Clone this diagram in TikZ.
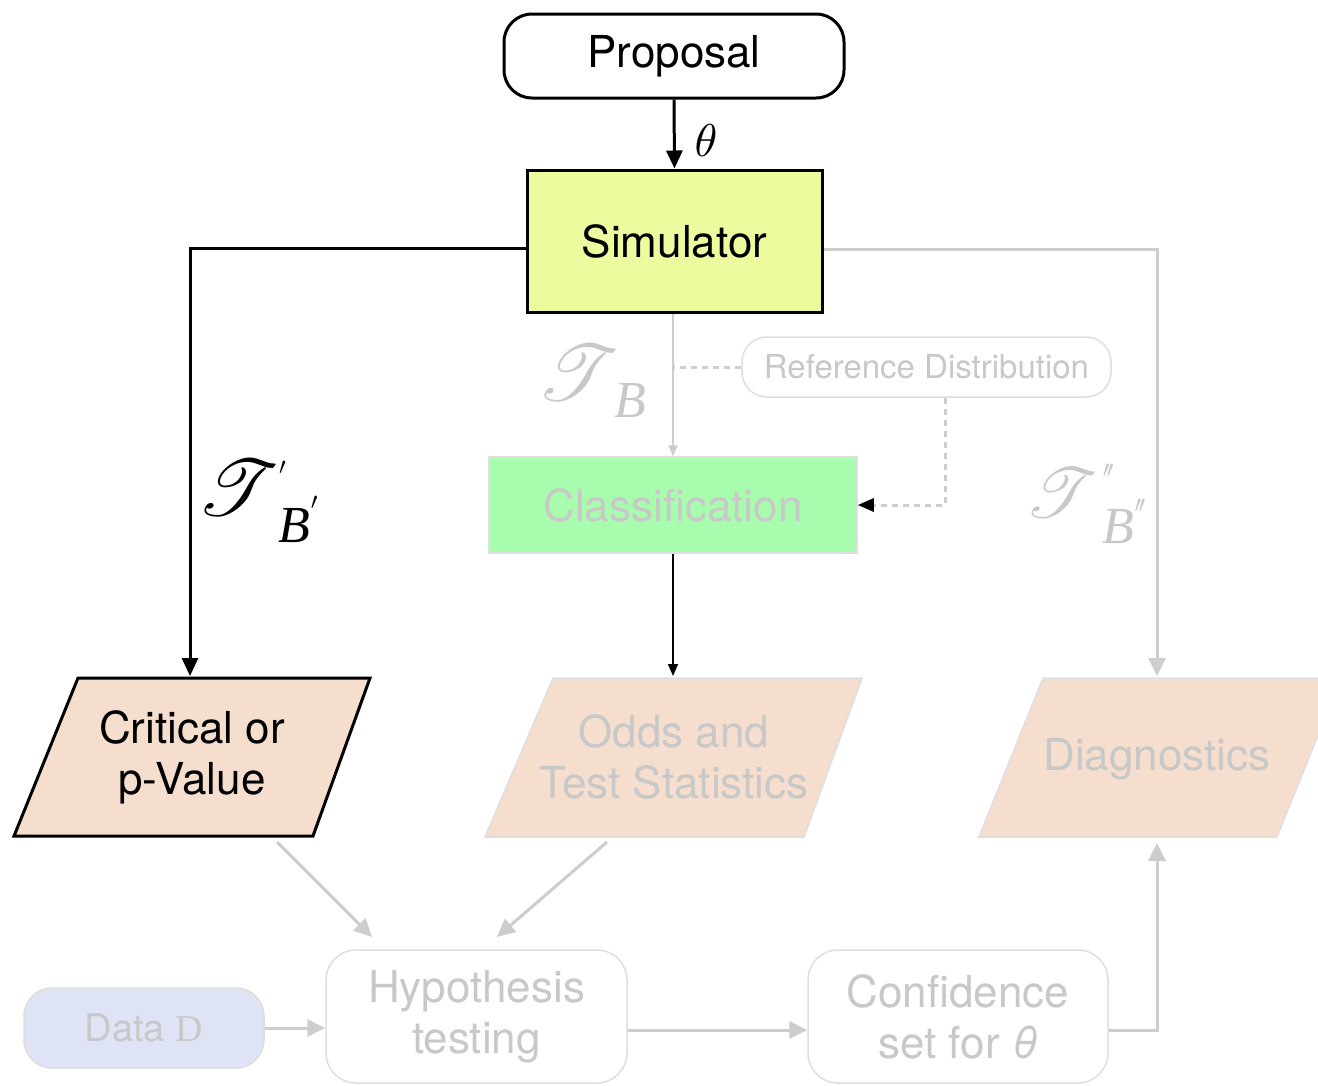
\documentclass[tikz,border=0pt]{standalone}
\usepackage{graphicx}
\usepackage{fontspec}
\setmainfont{TeX Gyre Heros}
\newfontfamily\serifD{Liberation Serif}
\usepackage{mathrsfs}
\usetikzlibrary{arrows.meta,calc}
\definecolor{simfill}{RGB}{238,250,158}
\definecolor{clsfill}{RGB}{168,252,174}
\definecolor{peach}{RGB}{245,222,205}
\definecolor{datafill}{RGB}{222,228,246}
\definecolor{gtext}{RGB}{200,200,200}
\definecolor{gline}{RGB}{205,205,205}
\definecolor{gborder}{RGB}{222,222,222}
\newcommand{\scrT}[1]{\scalebox{#1}{\fontsize{10}{12}\selectfont$\mathscr{T}$}}
\newcommand{\itB}{{\serifD\itshape\fontsize{52}{52}\selectfont B}}
\newcommand{\pri}{\scalebox{2.4}{\fontsize{10}{12}\selectfont$\prime$}}
\newcommand{\prii}{\scalebox{2.4}{\fontsize{10}{12}\selectfont$\prime\mkern-2mu\prime$}}
\begin{document}
\begin{tikzpicture}[x=1pt,y=-1pt,
  big/.style={font=\fontsize{44}{51}\selectfont, align=center},
  mid/.style={font=\fontsize{38}{45}\selectfont, align=center},
  small/.style={font=\fontsize{33}{40}\selectfont, align=center},
  calT/.style={inner sep=0pt, anchor=base west},
  blk/.style={line width=3, -{Triangle[length=18pt,width=16pt]}},
  blkthin/.style={line width=1.5, -{Triangle[length=12pt,width=10pt]}},
  gry/.style={line width=3, draw=gline, -{Triangle[length=18pt,width=17pt,color=gline]}},
  grythin/.style={line width=1.5, draw=gline, -{Triangle[length=11pt,width=9pt,color=gline]}},
  gdash/.style={line width=3, draw=gline, dash pattern=on 6pt off 5pt},
  ghostbox/.style={draw=gborder, line width=1.5, rounded corners=30, text=gtext}
]
\useasboundingbox (0,0) rectangle (1318,1085);

% Proposal and Simulator
\node[draw, line width=3, rounded corners=28, minimum width=340, minimum height=84, big] (prop) at (674,56) {Proposal};
\node[draw, fill=simfill, line width=3, minimum width=295, minimum height=142, big] (sim) at (674.5,241) {Simulator};
\draw[blk] (prop.south) -- (sim.north);
\node (theta) at (706,141) {\scalebox{4.6}{\fontsize{10}{12}\selectfont$\theta$}};

% Critical or p-Value (parallelogram)
\draw[line width=3, fill=peach, line join=miter] (78,678) -- (370,678) -- (313,836) -- (14,836) -- cycle;
\node[big] (crit) at (192,757) {Critical or\\p-Value};
\coordinate (critin) at (190,676);
\coordinate (critout) at (277,842);
\draw[blk] ([yshift=-7pt]sim.west) -| (critin);
\node[calT] (tp) at (197,515) {\scrT{7.9}\rlap{\raisebox{41pt}{\pri}}\kern-1pt\raisebox{-27pt}{\itB}\kern1pt\raisebox{6pt}{\pri}};

% Reference distribution & classification
\node[draw=gborder, line width=1.5, rounded corners=25, minimum width=369, minimum height=60, small, text=gtext] (ref) at (926.5,367) {Reference Distribution};
\node[draw=gborder, fill=clsfill, line width=1.5, minimum width=368, minimum height=96, big, text=gtext] (cls) at (673,505) {Classification};
\draw[grythin] (sim.south -| cls.north) -- (cls.north);
\draw[gdash] (ref.west) -- (ref.west -| cls.north);
\coordinate (rdx) at (945,0);
\draw[gdash, -{Triangle[length=16pt,width=13pt,color=black]}] (ref.south -| rdx) |- (cls.east);
\node[calT, text=gtext] (tb) at (537,400) {\scrT{7.9}\kern-5pt\raisebox{-17pt}{\itB}};

% Odds and Test Statistics
\draw[draw=gborder, line width=1.5, fill=peach] (553,678) -- (862,678) -- (804,837) -- (485,837) -- cycle;
\node[big, text=gtext] (odds) at (674,757) {Odds and\\Test Statistics};
\coordinate (oddsin) at (673,676);
\coordinate (oddsout) at (607,842);
\draw[blkthin] (cls.south) -- (oddsin);

% Diagnostics
\draw[draw=gborder, line width=1.5, fill=peach] (1043,678) -- (1341,678) -- (1277,837) -- (979,837) -- cycle;
\node[big, text=gtext] (diag) at (1157,759) {Diagnostics};
\coordinate (diagin) at (1157,676);
\coordinate (diagout) at (1157,843);
\draw[gry] ([yshift=-8pt]sim.east) -| (diagin);
\node[calT, text=gtext] (tpp) at (1025,517) {\scrT{7.0}\kern5pt\rlap{\raisebox{40pt}{\prii}}\raisebox{-26pt}{\itB}\raisebox{5pt}{\prii}};

% Bottom row
\node[ghostbox, minimum width=301, minimum height=133, big] (hyp) at (476.5,1016.5) {Hypothesis\\testing};
\node[ghostbox, minimum width=300, minimum height=133, big] (conf) at (958,1016.5) {Confidence\\set for \textit{θ}};
\node[draw=gborder, fill=datafill, line width=1.5, rounded corners=28, minimum width=240, minimum height=80, mid, text=gtext] (data) at (144,1028) {Data {\serifD D}};
\coordinate (hypin1) at (372,937);
\coordinate (hypin2) at (497,937);
\draw[gry] (critout) -- (hypin1);
\draw[gry] (oddsout) -- (hypin2);
\draw[gry] (data.east) -- (data.east -| hyp.west);
\draw[gry] ([yshift=-13.5pt]hyp.east) -- ([yshift=-13.5pt]conf.west);
\draw[gry] ([yshift=-13.5pt]conf.east) -| (diagout);
\end{tikzpicture}
\end{document}
